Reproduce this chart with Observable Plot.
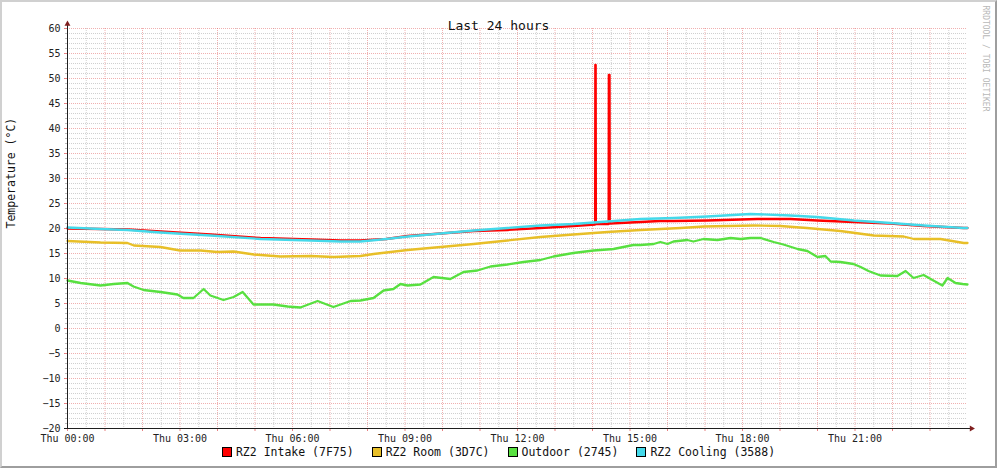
<!DOCTYPE html>
<html><head><meta charset="utf-8">
<script src="https://cdn.jsdelivr.net/npm/d3@7"></script>
<script src="https://cdn.jsdelivr.net/npm/@observablehq/plot@0.6"></script>
<style>
html,body{margin:0;padding:0;background:#fff;}
#wrap{position:relative;width:997px;height:468px;overflow:hidden;font-family:"DejaVu Sans Mono",monospace;}
#wrap svg{position:absolute;left:0;top:0;}
#border{position:absolute;left:0;top:0;width:997px;height:468px;box-sizing:border-box;border-top:2px solid #d0d0d0;border-left:2px solid #d0d0d0;border-right:2px solid #9e9e9e;border-bottom:2px solid #9e9e9e;pointer-events:none;}
#legend{position:absolute;left:0;width:997px;top:446px;display:flex;justify-content:center;gap:18px;font-size:11.5px;line-height:12px;color:#111;}
.item{display:flex;align-items:center;white-space:pre;}
.sw{width:8px;height:8px;border:1px solid #000;margin-right:4px;}
</style></head>
<body>
<div id="wrap"><div id="legend"></div><div id="border"></div></div>
<script>
// ---- data (hours since Thu 00:00, temperature in °C) ----
const seriesNames = ["RZ2 Intake (7F75)", "RZ2 Room (3D7C)", "Outdoor (2745)", "RZ2 Cooling (3588)"];
const seriesColors = ["#ff0000", "#e8bf28", "#58e040", "#44d9ea"];

const intakeHours = [0, 0.88, 1.6, 2.48, 3.81, 5.15, 6.48, 7.28, 7.81, 8.5, 9.07, 9.95, 10.83, 11.73, 12.61, 13.49, 14.07, 14.075, 14.085, 14.09, 14.43, 14.435, 14.455, 14.46, 15.28, 15.8, 16.17, 17.06, 18.4, 19.28, 19.99, 20.97, 21.95, 22.83, 23.9, 24];
const intakeTemps = [20.0, 19.9, 19.8, 19.4, 18.8, 18.1, 17.8, 17.6, 17.6, 17.9, 18.5, 19.0, 19.5, 19.7, 20.1, 20.5, 20.8, 52.7, 52.7, 20.9, 20.9, 50.7, 50.7, 21.0, 21.3, 21.5, 21.5, 21.6, 21.9, 21.9, 21.6, 21.3, 21.0, 20.5, 20.1, 20.1];

const roomHours = [0, 0.88, 1.6, 1.77, 2.48, 3.0, 3.55, 3.99, 4.43, 4.97, 5.68, 6.48, 7.1, 7.81, 8.16, 9.07, 9.95, 10.83, 11.73, 12.61, 13.49, 14.4, 15.28, 16.35, 16.97, 18.3, 19.01, 19.72, 20.61, 21.5, 22.3, 22.57, 23.28, 23.9, 24];
const roomTemps = [17.5, 17.2, 17.1, 16.6, 16.3, 15.6, 15.6, 15.3, 15.4, 14.8, 14.4, 14.5, 14.3, 14.5, 14.9, 15.7, 16.3, 16.9, 17.6, 18.3, 18.8, 19.3, 19.7, 20.1, 20.4, 20.6, 20.5, 20.1, 19.5, 18.6, 18.4, 17.9, 17.9, 17.1, 17.1];

const outdoorHours = [0, 0.35, 0.88, 1.23, 1.6, 1.76, 2.03, 2.48, 2.93, 3.09, 3.36, 3.63, 3.81, 4.16, 4.43, 4.67, 4.96, 5.49, 5.87, 6.21, 6.67, 7.09, 7.55, 7.81, 8.16, 8.43, 8.69, 8.88, 9.07, 9.41, 9.76, 10.21, 10.56, 10.93, 11.28, 11.73, 12.16, 12.61, 12.96, 13.49, 14.03, 14.56, 15.09, 15.28, 15.63, 15.81, 16.0, 16.16, 16.53, 16.69, 16.96, 17.33, 17.68, 17.95, 18.21, 18.48, 18.83, 19.09, 19.47, 19.73, 20.0, 20.21, 20.35, 20.61, 20.96, 21.15, 21.36, 21.68, 22.13, 22.35, 22.56, 22.83, 23.09, 23.33, 23.47, 23.68, 23.87, 24];
const outdoorTemps = [9.6, 9.1, 8.6, 8.9, 9.1, 8.4, 7.7, 7.3, 6.8, 6.1, 6.1, 7.9, 6.6, 5.7, 6.3, 7.3, 4.8, 4.8, 4.4, 4.2, 5.5, 4.3, 5.5, 5.6, 6.1, 7.6, 7.9, 8.9, 8.6, 8.8, 10.3, 9.9, 11.3, 11.6, 12.4, 12.8, 13.3, 13.7, 14.4, 15.1, 15.6, 15.9, 16.7, 16.7, 16.9, 17.3, 16.9, 17.4, 17.7, 17.4, 17.9, 17.7, 18.1, 17.9, 18.1, 18.1, 17.3, 16.8, 15.9, 15.5, 14.3, 14.5, 13.4, 13.3, 12.9, 12.3, 11.5, 10.6, 10.5, 11.5, 10.1, 10.7, 9.6, 8.6, 10.1, 9.1, 8.9, 8.8];

const coolingHours = [0, 0.88, 1.6, 2.48, 3.81, 5.15, 6.48, 7.28, 7.81, 8.5, 9.07, 9.95, 10.83, 11.73, 12.61, 13.49, 14.4, 15.28, 16.17, 17.06, 18.21, 19.28, 19.99, 20.97, 21.95, 22.83, 23.9, 24];
const coolingTemps = [20.2, 19.9, 19.7, 19.2, 18.6, 17.9, 17.6, 17.4, 17.4, 17.9, 18.4, 19.0, 19.6, 20.1, 20.6, 20.9, 21.4, 21.9, 22.1, 22.4, 22.9, 22.6, 22.3, 21.6, 21.1, 20.6, 20.1, 20.1];

// ---- ticks ----
const yMajor = d3.range(-20, 61, 5);
const yMinor = d3.range(-20, 61, 1).filter(v => v % 5 !== 0);
const xMajor = d3.range(0, 24, 1);
const xMinor = d3.range(0.5, 24, 1);
const xLabelHours = d3.range(0, 24, 3);
const xLabel = h => `Thu ${String(h).padStart(2, "0")}:00`;

const toRows = (hs, vs) => hs.map((h, i) => ({h, v: vs[i]}));
const series = [
  toRows(intakeHours, intakeTemps),
  toRows(roomHours, roomTemps),
  toRows(outdoorHours, outdoorTemps),
  toRows(coolingHours, coolingTemps)
];

const minorGrid = {stroke: "#8f8f8f", strokeOpacity: 0.42, strokeDasharray: "1,1"};
const majorGrid = {stroke: "#de4f4f", strokeOpacity: 0.45, strokeDasharray: "1,1"};

const chart = Plot.plot({
  width: 997, height: 468,
  marginLeft: 67, marginRight: 30, marginTop: 28, marginBottom: 40,
  x: {domain: [0, 24]},
  y: {domain: [-20, 60]},
  style: {fontFamily: '"DejaVu Sans Mono", monospace', fontSize: "10px", background: "transparent", color: "#222"},
  marks: [
    Plot.ruleY(yMinor, minorGrid),
    Plot.ruleX(xMinor, minorGrid),
    Plot.ruleY(yMajor, majorGrid),
    Plot.ruleX(xMajor, majorGrid),
    Plot.axisY({ticks: yMinor, tickSize: 2, text: null, stroke: "#8f8f8f", strokeOpacity: 0.6, label: null}),
    Plot.axisY({ticks: yMajor, tickSize: 3, tickPadding: 4, stroke: "#de4f4f", strokeOpacity: 0.7, label: null, fill: "#222"}),
    Plot.axisX({ticks: xMajor, tickSize: 3, text: null, stroke: "#de4f4f", strokeOpacity: 0.7, label: null}),
    Plot.axisX({ticks: xLabelHours, tickSize: 0, tickPadding: 6, tickFormat: xLabel, label: null, fill: "#222"}),
    ...series.map((rows, i) => Plot.line(rows, {x: "h", y: "v", stroke: seriesColors[i], strokeWidth: 2.3})),
    Plot.frame({anchor: "left", stroke: "#1f1f1f", insetTop: -4}),
    Plot.frame({anchor: "bottom", stroke: "#1f1f1f", insetRight: -3, insetLeft: -3}),
    Plot.dot([0], {frameAnchor: "top-left", dy: -4.5, symbol: "triangle", r: 2.2, fill: "#801f1f", stroke: null}),
    Plot.dot([0], {frameAnchor: "bottom-right", dx: 4, rotate: 90, symbol: "triangle", r: 2.2, fill: "#801f1f", stroke: null}),
    Plot.text(["Last 24 hours"], {frameAnchor: "top", dx: -19, dy: -7.5, fontSize: 13, fill: "#111"}),
    Plot.text(["Temperature (°C)"], {frameAnchor: "left", dx: -56.5, rotate: -90, fontSize: 11.5, fill: "#111"}),
    Plot.text(["RRDTOOL / TOBI OETIKER"], {frameAnchor: "top-right", dx: 21, dy: -23, rotate: 90, textAnchor: "start", fontSize: 8, fill: "#b8b8b8"})
  ]
});

const wrap = document.getElementById("wrap");
wrap.insertBefore(chart, wrap.firstChild);

const legend = d3.select("#legend");
seriesNames.forEach((name, i) => {
  const item = legend.append("div").attr("class", "item");
  item.append("div").attr("class", "sw").style("background", seriesColors[i]);
  item.append("span").text(name);
});
</script>
</body></html>
